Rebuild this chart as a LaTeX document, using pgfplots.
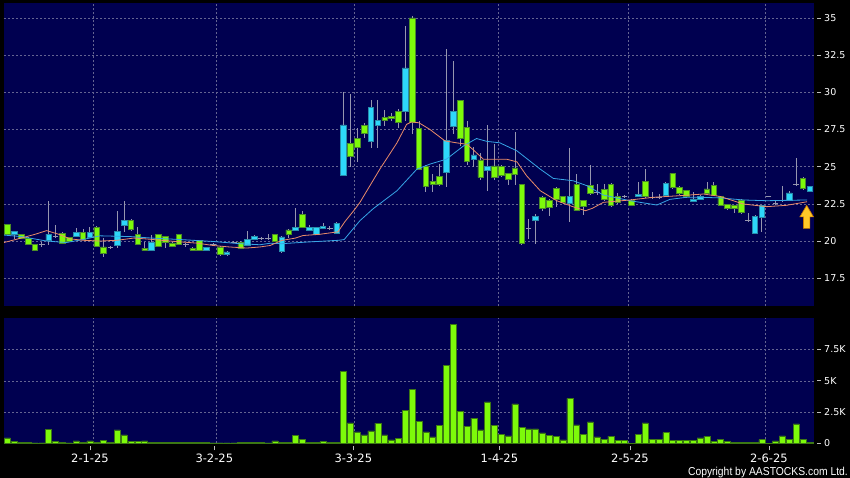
\documentclass[border=0pt]{standalone}
\usepackage{fontspec}
\setmainfont{DejaVu Sans}
\newfontfamily\lib{Liberation Sans}
\usepackage{graphicx}
\usepackage{pgfplots}
\usepackage{pgfplotstable}
\pgfplotsset{compat=1.18}

\definecolor{navy}{RGB}{0,0,80}
\definecolor{gridc}{RGB}{100,100,145}
\definecolor{upfill}{RGB}{45,215,250}
\definecolor{upline}{RGB}{40,140,170}
\definecolor{dnfill}{RGB}{125,250,10}
\definecolor{dnline}{RGB}{75,140,40}
\definecolor{wick}{RGB}{150,150,175}
\definecolor{maO}{RGB}{235,140,105}
\definecolor{maB}{RGB}{55,165,230}
\definecolor{volfill}{RGB}{125,250,10}
\definecolor{volline}{RGB}{60,120,20}
\definecolor{arrowfill}{RGB}{255,200,40}
\definecolor{arrowline}{RGB}{200,120,0}

\tikzset{mygrid/.style={draw=gridc, dash pattern=on 2pt off 2pt, line width=0.5pt}}

% down candles (green): open above close
\pgfplotstableread{
i O H L C
1 21.10 21.15 20.35 20.45
3 20.44 20.50 20.15 20.20
4 20.20 20.25 19.70 19.77
5 19.75 19.80 19.30 19.37
9 20.53 20.60 19.80 19.86
10 20.26 20.30 19.95 20.00
12 20.60 20.80 20.05 20.10
14 20.93 21.00 19.60 19.64
15 19.60 20.20 18.95 19.20
19 21.40 21.50 20.70 20.77
20 20.47 20.93 19.75 19.80
21 19.53 19.95 19.30 19.35
23 20.44 20.50 19.60 19.66
24 20.30 20.35 19.55 19.93
25 19.88 19.95 19.60 19.66
26 20.44 20.50 19.75 19.80
28 19.53 19.60 19.35 19.40
29 20.04 20.10 19.30 19.35
32 19.60 19.65 19.00 19.08
35 19.93 20.00 19.45 19.48
40 20.44 20.50 19.95 20.00
42 20.75 20.80 20.20 20.48
44 21.78 22.00 20.90 20.93
51 26.55 29.90 25.00 25.72
52 26.89 27.60 25.30 26.33
53 27.78 27.95 26.90 27.24
56 28.29 28.80 27.70 28.11
57 28.36 28.60 28.10 28.22
58 28.73 28.90 27.60 27.96
60 35.00 35.10 27.17 27.96
61 27.55 28.10 24.80 24.83
62 25.01 25.10 23.31 23.68
63 24.03 24.50 23.31 23.81
64 24.34 25.20 23.70 23.83
67 29.45 29.50 26.40 26.91
68 27.62 28.10 25.10 25.39
70 25.46 25.90 24.10 24.28
72 25.05 26.50 24.10 24.28
73 25.01 25.10 24.30 24.43
74 24.54 24.60 23.75 24.12
75 24.92 27.33 23.75 24.48
76 23.78 23.80 19.75 19.82
79 22.94 23.00 22.00 22.22
80 22.71 22.80 21.66 22.27
81 23.54 23.60 22.30 22.78
82 23.00 23.05 22.50 22.60
84 23.78 24.50 22.00 22.04
85 22.71 22.76 21.76 22.31
86 23.72 25.10 23.10 23.23
88 23.45 23.80 22.70 22.83
89 23.78 23.90 22.30 22.42
90 22.98 23.20 22.50 22.60
92 22.71 22.80 22.35 22.42
94 24.01 24.83 22.90 23.00
98 24.54 24.60 23.50 23.61
99 23.61 23.70 23.10 23.23
100 23.38 23.45 22.90 23.00
103 23.50 23.95 23.10 23.20
104 23.72 23.95 23.00 23.09
105 23.00 23.05 22.35 22.42
106 22.44 22.50 22.10 22.20
107 22.38 22.45 21.90 22.20
108 22.76 22.80 21.85 21.94
117 24.21 24.30 23.45 23.56
}\dncandles

% up candles (cyan): close above open
\pgfplotstableread{
i O H L C
2 20.47 20.70 20.15 20.67
7 20.02 22.71 19.70 20.46
11 20.30 20.87 20.25 20.60
13 20.28 20.95 20.20 20.60
17 19.70 22.00 19.50 20.67
18 21.07 22.67 20.60 21.40
22 19.35 20.40 19.30 19.93
30 19.35 19.60 19.30 19.55
33 19.08 19.30 19.00 19.27
36 19.70 20.67 19.65 20.10
37 20.15 20.40 20.10 20.33
41 19.30 20.35 19.20 20.28
43 20.70 22.20 20.65 20.89
45 20.70 21.10 20.65 20.89
46 20.48 20.95 20.45 20.89
47 20.87 21.20 20.80 21.00
49 20.53 21.30 20.50 21.20
50 24.40 30.00 24.40 27.80
54 26.69 29.47 26.22 28.96
55 27.78 29.50 26.25 28.11
59 28.69 34.46 28.07 31.64
65 24.61 32.90 23.60 26.79
66 27.69 32.08 27.20 28.69
69 25.50 26.30 25.00 25.79
71 24.74 27.78 23.38 25.03
78 21.40 21.85 19.80 21.68
83 22.56 26.28 21.27 23.00
93 23.00 23.95 22.95 23.16
97 23.05 24.00 22.95 23.88
101 22.69 23.30 22.60 22.83
102 22.83 23.10 22.75 23.00
110 20.53 21.75 20.45 21.67
111 21.60 22.45 20.60 22.38
115 22.76 23.35 22.70 23.23
118 23.34 23.70 23.30 23.65
}\upcandles

% doji days
\pgfplotstableread{
i H L C
6 19.95 19.60 19.80
8 21.10 20.20 20.30
16 19.65 19.45 19.55
27 19.90 19.60 19.75
31 19.85 19.65 19.75
34 20.00 19.85 19.93
38 20.30 20.10 20.20
39 20.45 20.10 20.20
48 21.00 20.75 20.87
77 21.50 20.15 20.85
87 23.80 23.10 23.27
91 23.10 22.90 23.00
95 23.30 22.85 22.94
96 23.15 22.85 22.95
109 21.90 21.30 21.38
112 23.05 22.95 23.00
113 22.75 22.40 22.54
114 23.70 22.60 22.71
116 25.61 23.70 23.83
}\dojis

% short moving average (orange)
\pgfplotstableread{
i v
0.5 19.90
3 20.20
5 20.45
6.7 20.70
8.5 20.45
10.1 20.15
12 20.05
14.5 20.00
17 20.05
19.4 20.20
21 20.15
23.7 20.04
26 19.95
28.6 19.86
31 19.70
33.4 19.60
35.9 19.53
37.8 19.60
39.3 19.70
41 20.04
43 20.20
44.1 20.37
46.5 20.45
49.2 20.62
50.2 21.30
51.7 22.16
52.4 22.60
55.3 24.83
57.8 26.60
59.2 27.84
59.9 28.00
61 27.95
62.6 27.50
64.8 26.73
66.5 26.60
68 26.50
69 26.10
70.4 25.50
73.8 25.50
75.3 25.32
76.7 24.39
78.7 23.38
81.1 22.71
83.5 22.30
85.3 22.04
86.3 22.20
87.9 22.60
91.8 22.76
95.2 22.94
99.1 23.05
102.5 23.16
104.9 23.00
108.3 22.49
111.7 22.31
114.6 22.40
117.6 22.64
}\maten

% long moving average (blue)
\pgfplotstableread{
i v
0.5 20.40
3 20.30
6.7 20.00
9.6 19.90
12 20.10
14.5 20.35
18.9 20.30
22 20.20
26.2 20.10
31 19.97
34.9 19.82
37.8 19.75
39.3 19.85
41 19.82
44.6 19.93
49.3 20.05
50.1 20.10
52.4 21.37
54.3 22.16
57.8 23.38
60.7 24.83
62.6 25.17
65 25.50
67.5 26.39
69.4 26.89
70.9 26.70
72.8 26.60
75.3 26.06
78.7 24.83
80.6 24.21
83.5 24.05
85.5 23.72
87.9 23.09
91.8 22.71
95.7 22.42
97.6 22.80
100 22.94
102 22.94
104.9 22.90
108.3 22.76
111.7 22.71
117.6 22.76
}\matwenty

% volume in thousands
\pgfplotstableread{
i v
1 0.43
2 0.13
3 0.08
4 0.08
5 0.03
6 0.03
7 1.13
8 0.16
9 0.08
10 0.03
11 0.20
12 0.08
13 0.19
14 0.10
15 0.24
16 0.05
17 1.08
18 0.67
19 0.13
20 0.13
21 0.19
22 0.08
23 0.08
24 0.05
25 0.05
26 0.08
27 0.05
28 0.05
29 0.08
30 0.05
31 0.03
32 0.03
33 0.03
34 0.03
35 0.10
36 0.10
37 0.10
38 0.05
39 0.03
40 0.19
41 0.08
42 0.08
43 0.62
44 0.32
45 0.08
46 0.08
47 0.13
48 0.08
49 0.08
50 5.75
51 1.64
52 0.91
53 0.67
54 0.99
55 1.61
56 0.67
57 0.27
58 0.40
59 2.61
60 4.33
61 1.77
62 0.91
63 0.51
64 1.42
65 6.21
66 9.52
67 2.58
68 1.37
69 2.02
70 1.08
71 3.31
72 1.45
73 0.73
74 0.59
75 3.15
76 1.26
77 1.16
78 1.16
79 0.83
80 0.65
81 0.54
82 0.27
83 3.60
84 1.48
85 0.73
86 1.72
87 0.51
88 0.32
89 0.56
90 0.24
91 0.24
92 0.02
93 0.73
94 1.64
95 0.30
96 0.32
97 0.86
98 0.24
99 0.22
100 0.24
101 0.24
102 0.43
103 0.56
104 0.13
105 0.30
106 0.16
107 0.08
108 0.08
109 0.08
110 0.08
111 0.30
112 0.02
113 0.19
114 0.59
115 0.30
116 1.56
117 0.32
118 0.05
}\volume

\pgfplotsset{
  panel/.style={
    scale only axis, width=810pt,
    xmin=0.4896, xmax=118.62, enlargelimits=false,
    axis line style={draw=none},
    /pgf/number format/assume math mode=true,
    tick align=outside,
    xtick pos=bottom, ytick pos=right,
  },
  pricepanel/.style={panel, at={(4pt,171.5pt)}, anchor=south west,
    height=303.5pt, ymin=15.6, ymax=36.0},
  volpanel/.style={panel, at={(4pt,34.7pt)}, anchor=south west,
    height=125pt, ymin=0, ymax=10},
  vgrid/.style={
    extra x ticks={13.51,31.5,51.58,72.58,91.53,111.57},
    extra x tick labels={},
    extra x tick style={xmajorgrids=true, major grid style={mygrid}, major tick length=0pt},
  },
}

\begin{document}
\begin{tikzpicture}
\useasboundingbox (0,0) rectangle (850pt,478pt);
\fill[black] (0,0) rectangle (850pt,478pt);

% price panel: background, grid, wicks, dojis
\begin{axis}[pricepanel, vgrid,
  axis background/.style={fill=navy},
  xtick=\empty,
  ytick={17.5,20,22.5,25,27.5,30,32.5,35},
  yticklabel pos=right,
  ymajorgrids, major grid style={mygrid},
  major tick length=4pt,
  y tick style={draw=white!75!black, line width=0.6pt, xshift=3pt},
  yticklabel style={font=\fontsize{9.5}{10}\selectfont, text=white, inner sep=0pt, xshift=6pt, anchor=west},
]
\addplot[draw=none, mark=none, forget plot, error bars/.cd, y dir=both, y explicit, error mark=none,
  error bar style={draw=wick, line width=0.8pt}]
  table[x=i, y expr={(\thisrow{H}+\thisrow{L})/2}, y error expr={(\thisrow{H}-\thisrow{L})/2}] {\dncandles};
\addplot[draw=none, mark=none, forget plot, error bars/.cd, y dir=both, y explicit, error mark=none,
  error bar style={draw=wick, line width=0.8pt}]
  table[x=i, y expr={(\thisrow{H}+\thisrow{L})/2}, y error expr={(\thisrow{H}-\thisrow{L})/2}] {\upcandles};
\addplot[draw=none, mark=none, forget plot, error bars/.cd, y dir=both, y explicit, error mark=none,
  error bar style={draw=wick, line width=0.8pt}]
  table[x=i, y expr={(\thisrow{H}+\thisrow{L})/2}, y error expr={(\thisrow{H}-\thisrow{L})/2}] {\dojis};
\addplot[only marks, mark=-, mark size=2.8pt, mark options={draw=wick, line width=0.8pt}]
  table[x=i, y=C] {\dojis};
\end{axis}

% green (down) bodies
\begin{axis}[pricepanel, hide axis, ybar stacked, bar width=5.5pt]
\addplot[draw=none, fill=none] table[x=i, y=C] {\dncandles};
\addplot[fill=dnfill, draw=dnline, line width=0.6pt] table[x=i, y expr={\thisrow{O}-\thisrow{C}}] {\dncandles};
\end{axis}

% cyan (up) bodies
\begin{axis}[pricepanel, hide axis, ybar stacked, bar width=5.5pt]
\addplot[draw=none, fill=none] table[x=i, y=O] {\upcandles};
\addplot[fill=upfill, draw=upline, line width=0.6pt] table[x=i, y expr={\thisrow{C}-\thisrow{O}}] {\upcandles};
\end{axis}

% moving averages and marker arrow
\begin{axis}[pricepanel, hide axis]
\addplot[maB, line width=0.8pt, mark=none] table[x=i, y=v] {\matwenty};
\addplot[maO, line width=0.8pt, mark=none] table[x=i, y=v] {\maten};
\filldraw[fill=arrowfill, draw=arrowline, line width=0.6pt]
  (axis cs:117.55,22.40) -- (axis cs:118.55,21.62) -- (axis cs:118.02,21.62)
  -- (axis cs:118.02,20.85) -- (axis cs:117.08,20.85) -- (axis cs:117.08,21.62)
  -- (axis cs:116.55,21.62) -- cycle;
\end{axis}

% volume panel
\begin{axis}[volpanel, vgrid,
  axis background/.style={fill=navy},
  ybar, bar width=6pt,
  ytick={0,2.5,5,7.5}, yticklabels={0,2.5K,5K,7.5K},
  yticklabel pos=right,
  ymajorgrids, major grid style={mygrid},
  xtick={13.03,31.16,51.43,72.73,91.78,112.05},
  xticklabels={2-1-25,3-2-25,3-3-25,1-4-25,2-5-25,2-6-25},
  major tick length=4pt,
  y tick style={draw=white!75!black, line width=0.6pt, xshift=3pt},
  x tick style={draw=white!75!black, line width=0.6pt, yshift=-3pt},
  yticklabel style={font=\fontsize{9.5}{10}\selectfont, text=white, inner sep=0pt, xshift=6pt, anchor=west},
  xticklabel style={font=\fontsize{11.5}{12}\selectfont, text=white, inner sep=0pt, yshift=-6pt, anchor=north},
]
\addplot[fill=volfill, draw=volline, line width=0.5pt] table[x=i, y=v] {\volume};
\end{axis}

\node[anchor=base east, inner sep=0pt, text=white, font=\lib\fontsize{11.5}{12}\selectfont]
  at (848pt,2.5pt) {\scalebox{0.9}[1]{Copyright by AASTOCKS.com Ltd.}};
\end{tikzpicture}
\end{document}
